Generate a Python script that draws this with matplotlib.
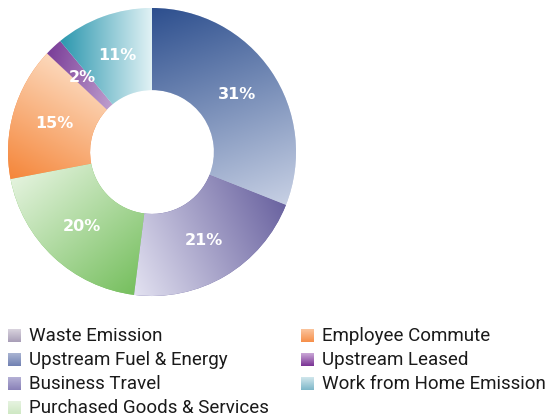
import numpy as np
import matplotlib
matplotlib.use('Agg')
import matplotlib.pyplot as plt
from matplotlib.colors import to_rgb

categories = ['Waste Emission', 'Upstream Fuel & Energy', 'Business Travel',
              'Purchased Goods & Services', 'Employee Commute', 'Upstream Leased',
              'Work from Home Emission']
shares = [0, 31, 21, 20, 15, 2, 11]

# gradient end colours per slice and the direction (degrees) the gradient runs
grad_start = ['#d8d2dd', '#2d4f8e', '#e3e2f1', '#e4f3de', '#fcd8bb', '#7a3d98', '#2a97ae']
grad_end = ['#a99fb8', '#c7d0e4', '#6a63a0', '#76bf5e', '#f5863a', '#ecdff1', '#e2f2f5']
grad_dir = [-90, -70, 25, -50, -120, -15, 0]

# legend swatches: top / bottom colour
swatch_top = ['#d8d2dd', '#a9b3d2', '#b4b0d5', '#e6f3e0', '#fbc39b', '#c9a6d6', '#cfe6ec']
swatch_bot = ['#a99fb8', '#7282b3', '#8a82b8', '#cfe8c4', '#f6904b', '#7b3595', '#7fb8c9']

W, H = 548, 416
fig = plt.figure(figsize=(W / 100, H / 100), dpi=100)

# donut axes, pixel box 8..296 on both axes
ax = fig.add_axes([8 / W, (H - 296) / H, 288 / W, 288 / H])
wedges, _ = ax.pie(shares, startangle=90, counterclock=False,
                   wedgeprops=dict(width=0.57, edgecolor='none'),
                   colors=grad_end)
ax.set_xlim(-1, 1)
ax.set_ylim(-1, 1)
ax.set_aspect('equal')

n = 400
xs = np.linspace(-1, 1, n)
gx, gy = np.meshgrid(xs, xs[::-1])
for w, c0, c1, ang, v in zip(wedges, grad_start, grad_end, grad_dir, shares):
    if v == 0:
        continue
    d = np.array([np.cos(np.radians(ang)), np.sin(np.radians(ang))])
    verts = w.get_path().vertices
    p = verts @ d
    t = ((gx * d[0] + gy * d[1]) - p.min()) / (p.max() - p.min())
    t = np.clip(t, 0, 1)[..., None]
    img = np.array(to_rgb(c0)) * (1 - t) + np.array(to_rgb(c1)) * t
    im = ax.imshow(img, extent=(-1, 1, -1, 1), zorder=3, interpolation='bilinear')
    im.set_clip_path(w)

    mid = np.radians((w.theta1 + w.theta2) / 2)
    r = 0.71
    ax.text(r * np.cos(mid), r * np.sin(mid), f'{v}%', ha='center', va='center',
            color='white', fontsize=11.5, fontweight='bold', zorder=5,
            family='DejaVu Sans')

# legend drawn in pixel coordinates
lax = fig.add_axes([0, 0, 1, 1])
lax.set_xlim(0, W)
lax.set_ylim(H, 0)
lax.axis('off')
for i, name in enumerate(categories):
    col, row = divmod(i, 4)
    x = 8 + col * 293
    y = 329 + row * 24
    t = np.linspace(0, 1, 20)[:, None, None]
    sw = np.array(to_rgb(swatch_top[i])) * (1 - t) + np.array(to_rgb(swatch_bot[i])) * t
    sw = np.repeat(sw, 2, axis=1)
    lax.imshow(sw, extent=(x, x + 13, y + 13, y), aspect='auto', interpolation='bilinear')
    lax.text(x + 21, y + 7, name, ha='left', va='center', fontsize=13.5,
             color='#1a1a1a', family='Roboto')
lax.set_xlim(0, W)
lax.set_ylim(H, 0)

fig.savefig('out.png', dpi=100)
